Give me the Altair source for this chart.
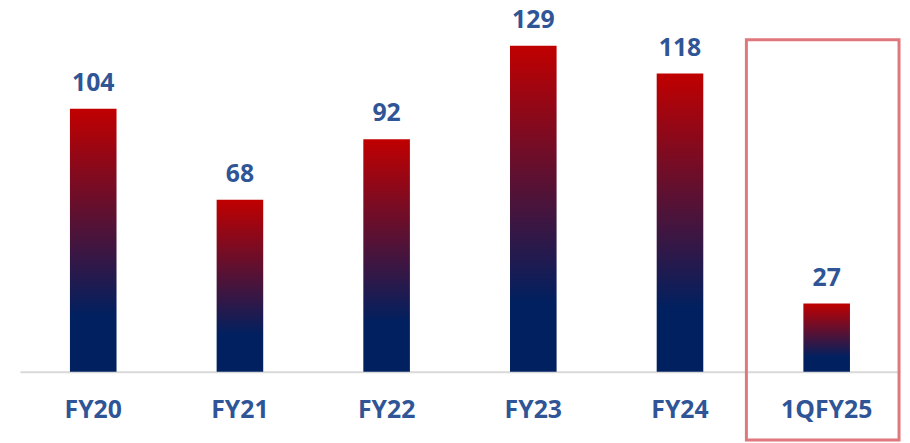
import altair as alt
import pandas as pd

categories = ["FY20", "FY21", "FY22", "FY23", "FY24", "1QFY25"]
values = [104, 68, 92, 129, 118, 27]

df = pd.DataFrame({"period": categories, "value": values})

label_color = "#2F5597"
font = "Open Sans"

gradient = alt.LinearGradient(
    gradient="linear",
    stops=[
        alt.GradientStop(color="#C00000", offset=0),
        alt.GradientStop(color="#002060", offset=0.79),
        alt.GradientStop(color="#002060", offset=1),
    ],
    x1=0, x2=0, y1=0, y2=1,
)

x_enc = alt.X(
    "period:N",
    sort=categories,
    title=None,
    scale=alt.Scale(paddingInner=0.68),
    axis=alt.Axis(
        labelAngle=0,
        labelFont=font,
        labelFontSize=25,
        labelFontWeight="bold",
        labelColor=label_color,
        labelPadding=26,
        ticks=False,
        domainColor="#D9D9D9",
        domainWidth=2,
        grid=False,
    ),
)
y_enc = alt.Y(
    "value:Q",
    scale=alt.Scale(domain=[0, 140], nice=False),
    axis=None,
)

base = alt.Chart(df)

bars = base.mark_bar(color=gradient, size=47).encode(x=x_enc, y=y_enc)

labels = base.mark_text(
    font=font,
    fontSize=25,
    fontWeight="bold",
    color=label_color,
    baseline="middle",
    dy=-26,
).encode(x=alt.X("period:N", sort=categories), y="value:Q", text="value:Q")

highlight = alt.Chart(pd.DataFrame({"k": [0]})).mark_rect(
    fill=None, fillOpacity=0, stroke="#E0777D", strokeWidth=3, clip=False
).encode(
    x=alt.value(733), x2=alt.value(887), y=alt.value(22), y2=alt.value(426)
)

chart = (
    alt.layer(bars, labels, highlight)
    .properties(
        width=888,
        height=357,
        autosize=alt.AutoSizeParams(type="none"),
        padding={"left": 12, "top": 8, "right": 2, "bottom": 70},
    )
    .configure_view(stroke=None)
)

chart.save("out.html", embed_options={"renderer": "svg", "actions": False})
